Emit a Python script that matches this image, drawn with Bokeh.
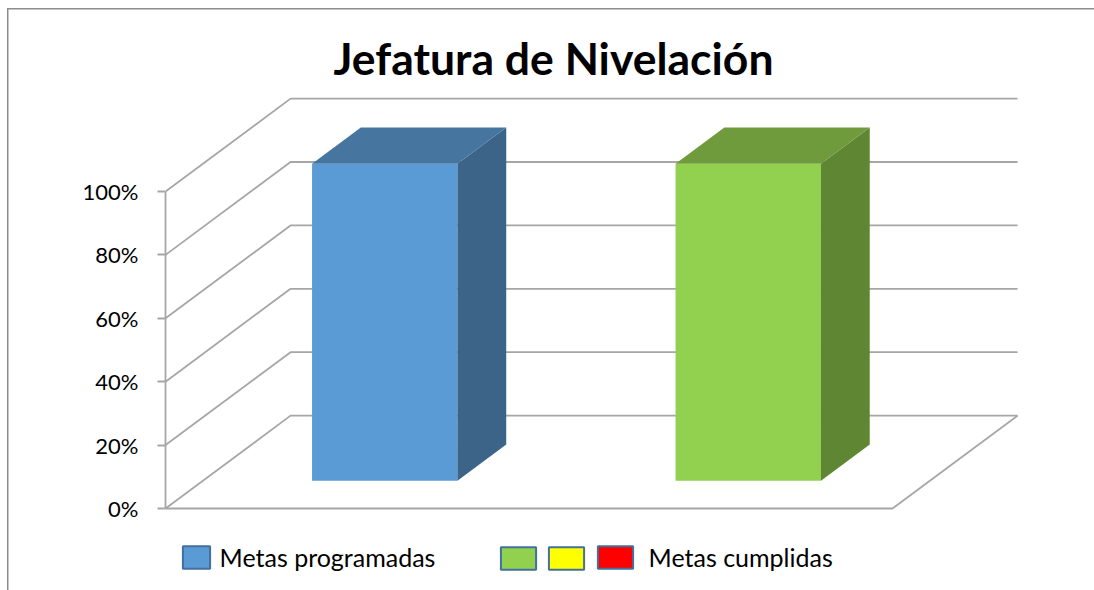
from bokeh.plotting import figure
from bokeh.models import (Range1d, LinearAxis, FixedTicker, Legend, LegendItem, Label)
from bokeh.embed import file_html
from bokeh.resources import INLINE

# ---------------- data ----------------
title_text = "Jefatura de Nivelación"
categories = ["Metas programadas", "Metas cumplidas"]
values = [100, 100]
front_colors = ["#5B9BD5", "#92D050"]
side_colors = ["#3B6488", "#5F8632"]
top_colors = ["#46769F", "#6F9B3C"]
y_ticks = [0, 20, 40, 60, 80, 100]
y_tick_labels = ["0%", "20%", "40%", "60%", "80%", "100%"]
legend_labels = ["Metas programadas", "", "", "Metas cumplidas"]
legend_colors = ["#5B9BD5", "#92D050", "#FFFF00", "#FF0000"]

# ---------------- 3D geometry (oblique projection, data units) ----------------
DX = 0.344      # depth offset in category units
DY = 29.3       # depth offset in percent units
D0, D1 = 0.30, 0.69   # bar depth span (fraction of full depth)
BAR_W = 0.40
N = len(categories)
GRID = "#A6A6A6"
FONT = "Lato"
NAN = float("nan")

p = figure(width=1094, height=590,
           x_range=Range1d(0, 2.5557), y_range=Range1d(-25.87, 160.25),
           output_backend="svg", toolbar_location=None,
           x_axis_location=None, y_axis_location=None,
           min_border_left=165, min_border_right=0,
           min_border_top=0, min_border_bottom=0)
p.grid.visible = False
p.outline_line_color = None
p.background_fill_color = None
p.border_fill_color = None
p.styles = {
    "background-color": "white",
    "background-image": "linear-gradient(#8C8C8C, #8C8C8C), linear-gradient(#8C8C8C, #8C8C8C)",
    "background-size": "1.5px 100%, 100% 1.5px",
    "background-position": "6.5px 7.5px, 6.5px 7.5px",
    "background-repeat": "no-repeat",
}

# y axis (front-left edge)
yaxis = LinearAxis(ticker=FixedTicker(ticks=y_ticks), bounds=(0, 100))
yaxis.major_label_overrides = {t: l for t, l in zip(y_ticks, y_tick_labels)}
yaxis.axis_line_color = GRID
yaxis.axis_line_width = 1.8
yaxis.major_tick_line_color = GRID
yaxis.major_tick_line_width = 1.8
yaxis.major_tick_out = 8
yaxis.major_tick_in = 0
yaxis.minor_tick_line_color = None
yaxis.major_label_standoff = 19
yaxis.major_label_text_font = FONT
yaxis.major_label_text_font_size = "22px"
yaxis.major_label_text_color = "#000000"
p.add_layout(yaxis, "left")

# back wall gridlines and side-wall diagonals
gx, gy = [], []
for v in y_ticks:
    gx.append([0, DX, N + DX])
    gy.append([v, v + DY, v + DY])
# floor front edge and right edge
gx.append([0, N, N + DX])
gy.append([0, 0, DY])
p.multi_line(gx, gy, line_color=GRID, line_width=1.8)

# bars
fl, fr, fb, ft = [], [], [], []
side_x, side_y, top_x, top_y = [], [], [], []
ddx, ddy = (D1 - D0) * DX, (D1 - D0) * DY
for i, v in enumerate(values):
    c = i + 0.5
    l = c - BAR_W / 2 + D0 * DX
    r = c + BAR_W / 2 + D0 * DX
    b = D0 * DY
    t = v + D0 * DY
    fl.append(l); fr.append(r); fb.append(b); ft.append(t)
    side_x.append([r, r, r + ddx, r + ddx])
    side_y.append([b, t, t + ddy, b + ddy])
    top_x.append([l, r, r + ddx, l + ddx])
    top_y.append([t, t, t + ddy, t + ddy])

p.quad(left=fl, right=fr, bottom=fb, top=ft, fill_color=front_colors, line_color=None)
p.patches(side_x, side_y, fill_color=side_colors, line_color=None)
p.patches(top_x, top_y, fill_color=top_colors, line_color=None)

# legend swatches (renderers with no visible geometry)
sw = []
for col in legend_colors:
    sw.append(p.quad(left=[NAN], right=[NAN], top=[NAN], bottom=[NAN], fill_color=col,
                     line_color="#41719C", line_width=2))

common = dict(orientation="horizontal", padding=0, margin=0, border_line_color=None,
              background_fill_alpha=0, label_text_font=FONT, label_text_font_size="25px",
              label_text_color="#000000", label_width=0, label_height=0,
              glyph_height=28, spacing=0)
leg1 = Legend(items=[LegendItem(label=legend_labels[0], renderers=[sw[0]])],
              location=(13.6, 18), glyph_width=34, label_standoff=7, **common)
leg2 = Legend(items=[LegendItem(label=legend_labels[k], renderers=[sw[k]]) for k in (1, 2)],
              location=(330.6, 18), glyph_width=44, label_standoff=4, **common)
leg3 = Legend(items=[LegendItem(label=legend_labels[3], renderers=[sw[3]])],
              location=(427.6, 18), glyph_width=44, label_standoff=12, **common)
p.add_layout(leg1)
p.add_layout(leg2)
p.add_layout(leg3)

# title
p.add_layout(Label(x=388, y=533, x_units="screen", y_units="screen", text=title_text,
                   text_align="center", text_baseline="alphabetic", text_font=FONT,
                   text_font_style="bold", text_font_size="44.5px", text_color="#000000"))

open("out.html", "w").write(file_html(p, INLINE))
